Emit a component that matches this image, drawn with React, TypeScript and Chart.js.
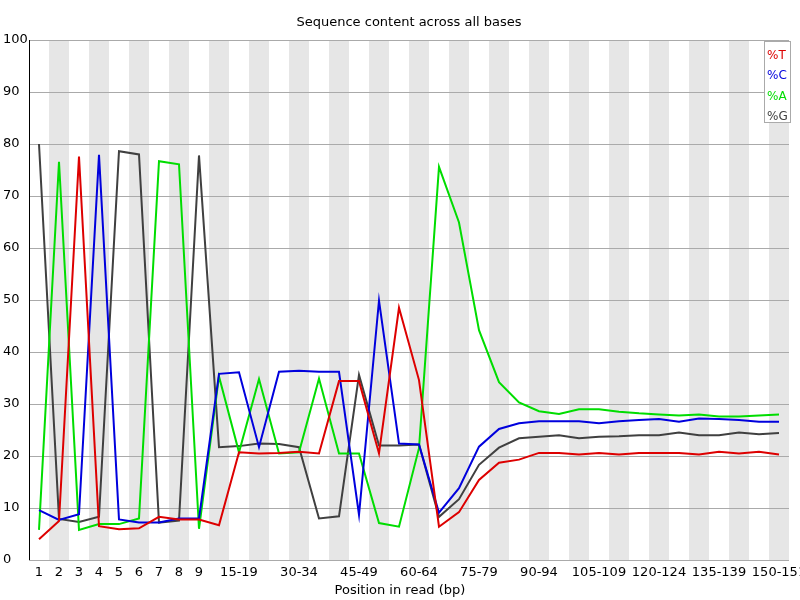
import React, { useEffect, useRef } from "react";
import { Chart, registerables } from "chart.js";

Chart.register(...registerables);

const categories = [
  "1", "2", "3", "4", "5", "6", "7", "8", "9",
  "10-14", "15-19", "20-24", "25-29", "30-34", "35-39", "40-44", "45-49",
  "50-54", "55-59", "60-64", "65-69", "70-74", "75-79", "80-84", "85-89",
  "90-94", "95-99", "100-104", "105-109", "110-114", "115-119", "120-124",
  "125-129", "130-134", "135-139", "140-144", "145-149", "150-151",
];

const shownTicks = [
  "1", "2", "3", "4", "5", "6", "7", "8", "9",
  "15-19", "30-34", "45-49", "60-64", "75-79", "90-94", "105-109",
  "120-124", "135-139", "150-151",
];

const pctT = [
  4.0, 7.5, 77.6, 6.5, 5.9, 6.1, 8.3, 7.8, 7.8, 6.7,
  20.7, 20.5, 20.6, 20.8, 20.5, 34.4, 34.4, 20.5, 48.5, 34.6,
  6.4, 9.2, 15.4, 18.7, 19.3, 20.6, 20.6, 20.3, 20.6, 20.3,
  20.6, 20.6, 20.6, 20.3, 20.8, 20.5, 20.8, 20.3,
];
const pctC = [
  9.6, 7.7, 8.8, 77.9, 7.8, 7.2, 7.2, 8.0, 8.0, 35.8,
  36.1, 21.7, 36.2, 36.4, 36.2, 36.2, 8.7, 49.9, 22.4, 22.2,
  9.1, 13.8, 21.8, 25.2, 26.3, 26.7, 26.7, 26.7, 26.3, 26.7,
  26.9, 27.1, 26.6, 27.2, 27.1, 26.9, 26.6, 26.6,
];
const pctA = [
  5.8, 76.6, 5.8, 6.9, 6.9, 8.0, 76.7, 76.1, 6.0, 35.3,
  20.7, 34.8, 20.5, 20.7, 34.9, 20.5, 20.5, 7.1, 6.4, 21.5,
  75.6, 64.9, 44.2, 34.2, 30.3, 28.6, 28.1, 29.0, 29.0, 28.5,
  28.2, 28.0, 27.8, 28.0, 27.6, 27.6, 27.8, 28.0,
];
const pctG = [
  80.0, 7.9, 7.3, 8.3, 78.6, 78.0, 7.2, 7.6, 77.8, 21.7,
  21.9, 22.4, 22.3, 21.7, 8.0, 8.4, 35.6, 22.0, 22.0, 22.2,
  8.3, 11.7, 18.3, 21.6, 23.4, 23.7, 24.0, 23.4, 23.7, 23.8,
  24.0, 24.0, 24.5, 24.0, 24.0, 24.5, 24.2, 24.4,
];

const seriesNames = ["%T", "%C", "%A", "%G"];
const seriesColors = ["#dd0000", "#0000dd", "#00dd00", "#404040"];

const FONT = "DejaVu Sans, sans-serif";

const decorPlugin = {
  id: "decor",
  beforeDatasetsDraw(chart: any) {
    const { ctx, chartArea, scales } = chart;
    const x = scales.x;
    const step = x.getPixelForValue(1) - x.getPixelForValue(0);
    ctx.save();
    ctx.fillStyle = "#e6e6e6";
    for (let i = 1; i < categories.length; i += 2) {
      const c = x.getPixelForValue(i);
      ctx.fillRect(c - step / 2, chartArea.top, step, chartArea.bottom - chartArea.top);
    }
    const y = scales.y;
    ctx.strokeStyle = "#aaaaaa";
    ctx.lineWidth = 1;
    for (let v = 0; v <= 100; v += 10) {
      const py = Math.round(y.getPixelForValue(v)) + 0.5;
      ctx.beginPath();
      ctx.moveTo(chartArea.left, py);
      ctx.lineTo(chartArea.right, py);
      ctx.stroke();
    }
    ctx.strokeStyle = "#000000";
    ctx.beginPath();
    ctx.moveTo(chartArea.left + 0.5, chartArea.top);
    ctx.lineTo(chartArea.left + 0.5, chartArea.bottom);
    ctx.stroke();
    ctx.restore();
  },
  afterDraw(chart: any) {
    const { ctx, chartArea } = chart;
    ctx.save();
    ctx.fillStyle = "#000000";
    ctx.font = `13px ${FONT}`;
    ctx.textAlign = "center";
    ctx.textBaseline = "middle";
    ctx.fillText("Sequence content across all bases", (chartArea.left + chartArea.right) / 2, 23);
    ctx.fillText("Position in read (bp)", 400, 591);
    const lx = 764.5, ly = 41.5, lw = 26, lh = 81;
    ctx.fillStyle = "#ffffff";
    ctx.fillRect(lx, ly, lw, lh);
    ctx.strokeStyle = "#aaaaaa";
    ctx.lineWidth = 1;
    ctx.strokeRect(lx, ly, lw, lh);
    ctx.font = `12px ${FONT}`;
    ctx.textAlign = "left";
    seriesNames.forEach((n, i) => {
      ctx.fillStyle = seriesColors[i];
      ctx.fillText(n, 767, 56 + i * 20.3);
    });
    ctx.restore();
  },
};

export default function App() {
  const ref = useRef<HTMLCanvasElement | null>(null);
  useEffect(() => {
    if (!ref.current) return;
    const data = [pctT, pctC, pctA, pctG];
    const chart = new Chart(ref.current, {
      type: "line",
      data: {
        labels: categories,
        datasets: data.map((d, i) => ({
          label: seriesNames[i],
          data: d,
          borderColor: seriesColors[i],
          backgroundColor: seriesColors[i],
          borderWidth: 2,
          pointRadius: 0,
          tension: 0,
          fill: false,
        })),
      },
      options: {
        animation: false,
        responsive: false,
        maintainAspectRatio: false,
        layout: { padding: { left: 3, right: 11, top: 40, bottom: 0 } },
        plugins: {
          legend: { display: false },
          title: { display: false },
          tooltip: { enabled: false },
        },
        scales: {
          x: {
            type: "category",
            offset: true,
            grid: { display: false, drawTicks: false },
            border: { display: false },
            ticks: {
              autoSkip: false,
              maxRotation: 0,
              minRotation: 0,
              padding: 5,
              color: "#000000",
              font: { family: FONT, size: 13 },
              callback: function (this: any, _v: any, idx: number) {
                const l = categories[idx];
                return shownTicks.includes(l) ? l : "";
              },
            },
            afterFit(scale: any) {
              scale.height = 40;
              scale.paddingLeft = 0;
              scale.paddingRight = 0;
            },
          },
          y: {
            min: 0,
            max: 100,
            grid: { display: false, drawTicks: false },
            border: { display: false },
            ticks: {
              stepSize: 10,
              crossAlign: "far",
              color: "#000000",
              font: { family: FONT, size: 13 },
            },
            afterFit(scale: any) {
              scale.width = 26;
              scale.paddingTop = 0;
              scale.paddingBottom = 0;
            },
          },
        },
      },
      plugins: [decorPlugin],
    });
    return () => chart.destroy();
  }, []);
  return (
    <div style={{ position: "absolute", left: 0, top: 0, width: 800, height: 600, background: "#ffffff" }}>
      <canvas ref={ref} width={800} height={600} style={{ display: "block" }} />
    </div>
  );
}
